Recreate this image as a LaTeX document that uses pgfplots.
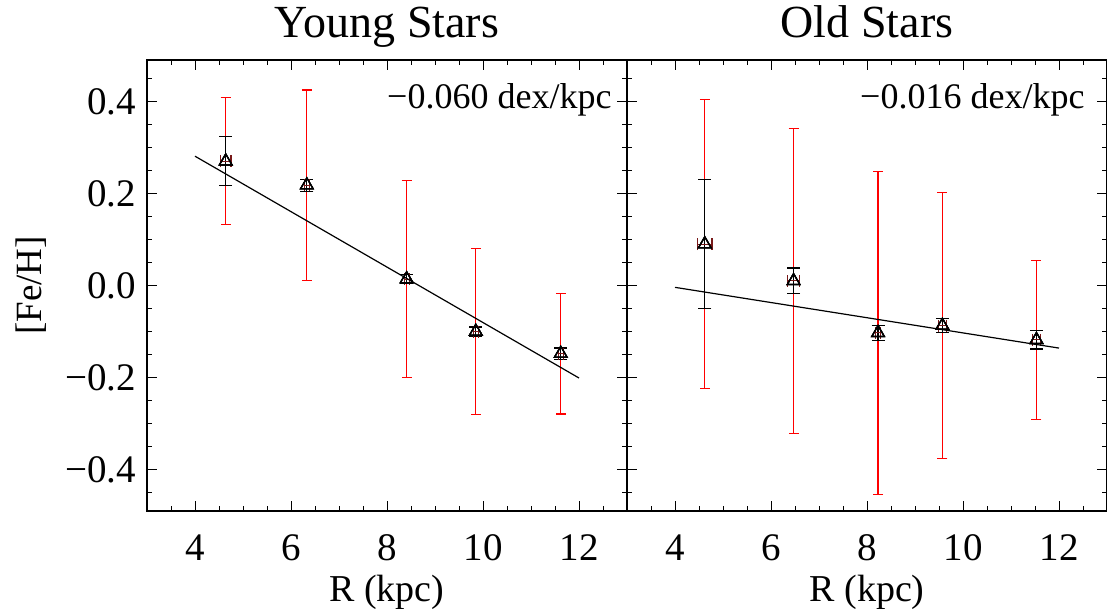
\documentclass[border=0pt]{standalone}
\usepackage{pgfplots}
\usepackage{pgfplotstable}
\pgfplotsset{compat=1.18}
\usepackage{fontspec}
\setmainfont{Liberation Serif}
\definecolor{dkred}{RGB}{120,25,25}

\pgfplotstableread{
x y ered eblk xerr
4.64 0.270 0.138 0.053 0.11
6.33 0.218 0.207 0.013 0.05
8.41 0.014 0.214 0.010 0.05
9.85 -0.100 0.180 0.010 0.05
11.62 -0.148 0.131 0.012 0.05
}\young

\pgfplotstableread{
x y ered eblk xerr
4.62 0.090 0.314 0.140 0.15
6.47 0.010 0.331 0.028 0.12
8.23 -0.103 0.351 0.016 0.05
9.57 -0.087 0.289 0.015 0.08
11.53 -0.118 0.173 0.020 0.08
}\old

\pgfplotsset{
 panel/.style={
  scale only axis, width=480pt, height=451pt,
  xmin=3, xmax=13, ymin=-0.49, ymax=0.49,
  xtick={4,6,8,10,12}, xticklabels={4,6,8,10,12},
  minor xtick={3.5,4.5,5,5.5,6.5,7,7.5,8.5,9,9.5,10.5,11,11.5,12.5},
  ytick={-0.4,-0.2,0,0.2,0.4},
  minor ytick={-0.45,-0.35,-0.3,-0.25,-0.15,-0.1,-0.05,0.05,0.1,0.15,0.25,0.3,0.35,0.45},
  tick align=inside,
  major tick length=10pt, minor tick length=5pt,
  every tick/.style={black, line width=1pt},
  axis line style={line width=1.3pt},
  xticklabel style={font=\fontsize{39}{39}\selectfont, anchor=base, inner sep=0pt, yshift=-49pt},
  yticklabel style={font=\fontsize{39}{39}\selectfont, anchor=east, inner sep=0pt, xshift=-11pt},
  clip=false,
 },
 tri/.style={only marks, mark=triangle, mark size=7.3pt,
  mark options={black, line width=1.2pt}},
}

\begin{document}
\begin{tikzpicture}
\useasboundingbox (0,0) rectangle (1107pt,-609pt);

% ---------- Young Stars ----------
\begin{axis}[panel, at={(147pt,-511pt)}, anchor=south west,
  yticklabels={−0.4,−0.2,0.0,0.2,0.4}]
\addplot[tri, error bars/.cd, y dir=both, y explicit,
  error bar style={red, line width=1.2pt},
  error mark options={rotate=90, red, line width=1.2pt, mark size=5pt}]
  table[x=x, y=y, y error=ered]{\young};
\addplot[tri, error bars/.cd, y dir=both, y explicit,
  error bar style={black, line width=1.2pt},
  error mark options={rotate=90, black, line width=1.2pt, mark size=6.5pt}]
  table[x=x, y=y, y error=eblk]{\young};
\addplot[tri, error bars/.cd, x dir=both, x explicit,
  error bar style={dkred, line width=1.1pt},
  error mark options={rotate=90, dkred, line width=1.1pt, mark size=6pt}]
  table[x=x, y=y, x error=xerr]{\young};
\addplot[tri] table[x=x, y=y]{\young};
\addplot[black, line width=1.2pt] coordinates {(4,0.281) (12,-0.201)};
\node[anchor=base, font=\fontsize{46}{46}\selectfont] at (rel axis cs:0.5,1.0503) {Young Stars};
\node[anchor=base east, font=\fontsize{36}{36}\selectfont] at (rel axis cs:0.975,0.8925) {−0.060 dex/kpc};
\node[anchor=base, font=\fontsize{38}{38}\selectfont] at (rel axis cs:0.5,-0.1996) {R (kpc)};
\node[anchor=base, rotate=90, font=\fontsize{37}{37}\selectfont] at (rel axis cs:-0.2194,0.5) {[Fe/H]};
\end{axis}

% ---------- Old Stars ----------
\begin{axis}[panel, at={(627pt,-511pt)}, anchor=south west,
  yticklabels={}]
\addplot[tri, error bars/.cd, y dir=both, y explicit,
  error bar style={red, line width=1.2pt},
  error mark options={rotate=90, red, line width=1.2pt, mark size=5pt}]
  table[x=x, y=y, y error=ered]{\old};
\addplot[tri, error bars/.cd, y dir=both, y explicit,
  error bar style={black, line width=1.2pt},
  error mark options={rotate=90, black, line width=1.2pt, mark size=6.5pt}]
  table[x=x, y=y, y error=eblk]{\old};
\addplot[tri, error bars/.cd, x dir=both, x explicit,
  error bar style={dkred, line width=1.1pt},
  error mark options={rotate=90, dkred, line width=1.1pt, mark size=6pt}]
  table[x=x, y=y, x error=xerr]{\old};
\addplot[tri] table[x=x, y=y]{\old};
\addplot[black, line width=1.2pt] coordinates {(4,-0.004) (12,-0.136)};
\node[anchor=base, font=\fontsize{46}{46}\selectfont] at (rel axis cs:0.5,1.0503) {Old Stars};
\node[anchor=base east, font=\fontsize{36}{36}\selectfont] at (rel axis cs:0.9604,0.8925) {−0.016 dex/kpc};
\node[anchor=base, font=\fontsize{38}{38}\selectfont] at (rel axis cs:0.5,-0.1996) {R (kpc)};
\end{axis}
\end{tikzpicture}
\end{document}
